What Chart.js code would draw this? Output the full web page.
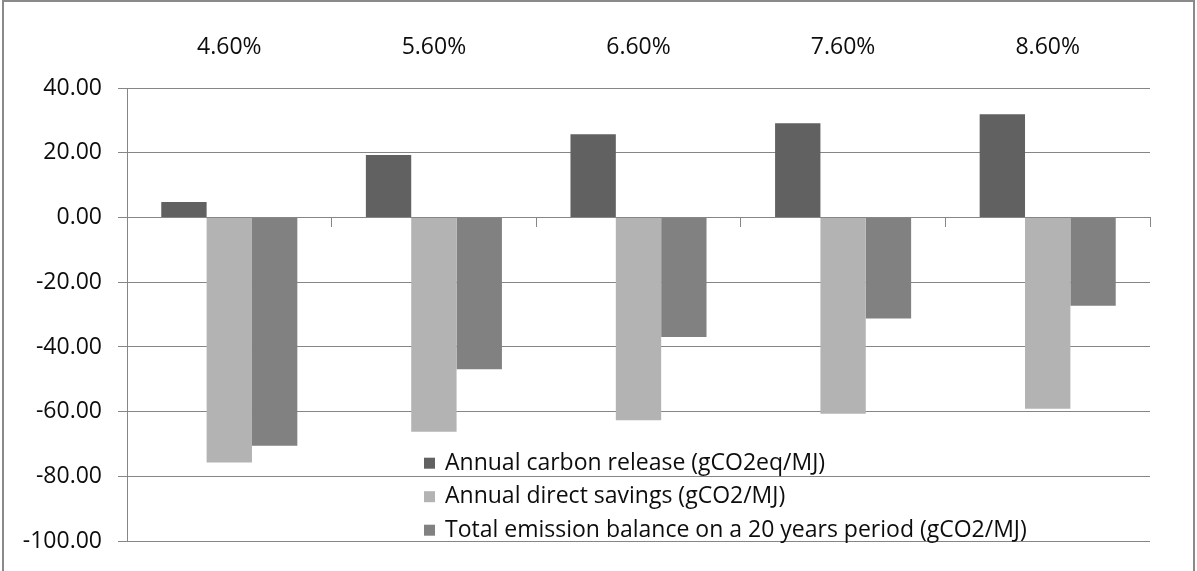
<!DOCTYPE html>
<html>
<head>
<meta charset="utf-8">
<title>Carbon release and savings by share</title>
<script src="https://cdn.jsdelivr.net/npm/chart.js@4"></script>
<style>
  html, body { margin: 0; padding: 0; background: #ffffff; }
  #wrap { width: 1197px; height: 571px; }
</style>
</head>
<body>
<div id="wrap"><canvas id="chart" width="1197" height="571"></canvas></div>
<script>
// Category labels (shown above the plot)
const shareLabels = ['4.60%', '5.60%', '6.60%', '7.60%', '8.60%'];

// Series values
const carbonRelease = [4.8, 19.3, 25.7, 29.1, 31.9];
const directSavings = [-75.7, -66.2, -62.6, -60.6, -59.1];
const balance20Years = [-70.5, -46.9, -36.9, -31.2, -27.3];

// Series names
const seriesNames = [
  'Annual carbon release (gCO2eq/MJ)',
  'Annual direct savings (gCO2/MJ)',
  'Total emission balance on a 20 years period (gCO2/MJ)'
];

// Value axis range
const yMin = -100;
const yMax = 40;
const yStep = 20;

const FONT = "'Open Sans', 'DejaVu Sans', sans-serif";
const FONT_SIZE = 23;
const LINE = '#868686';
const TEXT = '#0d0d0d';

// White page with a thin grey frame
const frame = {
  id: 'frame',
  beforeDraw(chart) {
    const { ctx, width, height } = chart;
    ctx.save();
    ctx.fillStyle = '#ffffff';
    ctx.fillRect(0, 0, width, height);
    ctx.strokeStyle = '#8a8a8a';
    ctx.lineWidth = 2;
    ctx.beginPath();
    ctx.moveTo(3, height);
    ctx.lineTo(3, 1);
    ctx.lineTo(width - 3, 1);
    ctx.lineTo(width - 3, height);
    ctx.stroke();
    ctx.restore();
  }
};

// Legend drawn inside the lower part of the plot area
const insideLegend = {
  id: 'insideLegend',
  afterDatasetsDraw(chart, args, opts) {
    const { ctx, chartArea } = chart;
    const sets = chart.data.datasets;
    ctx.save();
    ctx.font = opts.font;
    ctx.textBaseline = 'middle';
    ctx.textAlign = 'left';
    sets.forEach((ds, i) => {
      const yc = chartArea.bottom - opts.bottomOffset - (sets.length - 1 - i) * opts.rowHeight;
      const x = chartArea.left + opts.leftOffset;
      ctx.fillStyle = ds.backgroundColor;
      ctx.fillRect(x, yc - opts.box / 2, opts.box, opts.box);
      ctx.fillStyle = TEXT;
      ctx.fillText(ds.label, x + opts.box + opts.gap, yc);
    });
    ctx.restore();
  }
};

new Chart(document.getElementById('chart'), {
  type: 'bar',
  data: {
    labels: shareLabels,
    datasets: [
      { label: seriesNames[0], data: carbonRelease, backgroundColor: '#616161' },
      { label: seriesNames[1], data: directSavings, backgroundColor: '#b3b3b3' },
      { label: seriesNames[2], data: balance20Years, backgroundColor: '#818181' }
    ]
  },
  options: {
    responsive: false,
    animation: false,
    devicePixelRatio: 1,
    layout: { padding: { left: 0, right: 47, top: 0, bottom: 28 } },
    datasets: {
      bar: { categoryPercentage: 0.665, barPercentage: 1.0, borderWidth: 0 }
    },
    plugins: {
      legend: { display: false },
      tooltip: { enabled: false },
      insideLegend: {
        font: FONT_SIZE + "px " + FONT,
        leftOffset: 297,
        rowHeight: 33.5,
        bottomOffset: 11,
        box: 11,
        gap: 10
      }
    },
    scales: {
      x: {
        position: 'top',
        offset: true,
        grid: { display: false, drawTicks: false },
        border: { display: false },
        ticks: {
          color: TEXT,
          font: { family: FONT, size: FONT_SIZE },
          padding: 27,
          maxRotation: 0
        },
        afterFit(scale) { scale.height = 88; }
      },
      zeroAxis: {
        type: 'category',
        axis: 'x',
        position: { y: 0 },
        offset: true,
        grid: {
          offset: true,
          drawOnChartArea: false,
          drawTicks: true,
          tickLength: 9,
          color: LINE,
          lineWidth: 1
        },
        border: { display: true, color: LINE, width: 1 },
        ticks: { display: false }
      },
      y: {
        min: yMin,
        max: yMax,
        grid: {
          color: LINE,
          lineWidth: 1,
          drawTicks: true,
          tickLength: 9
        },
        border: { display: true, color: LINE, width: 1 },
        ticks: {
          stepSize: yStep,
          color: TEXT,
          font: { family: FONT, size: FONT_SIZE },
          padding: 16,
          callback: (v) => Number(v).toFixed(2)
        },
        afterFit(scale) { scale.width = 127; }
      }
    }
  },
  plugins: [frame, insideLegend]
});
</script>
</body>
</html>
